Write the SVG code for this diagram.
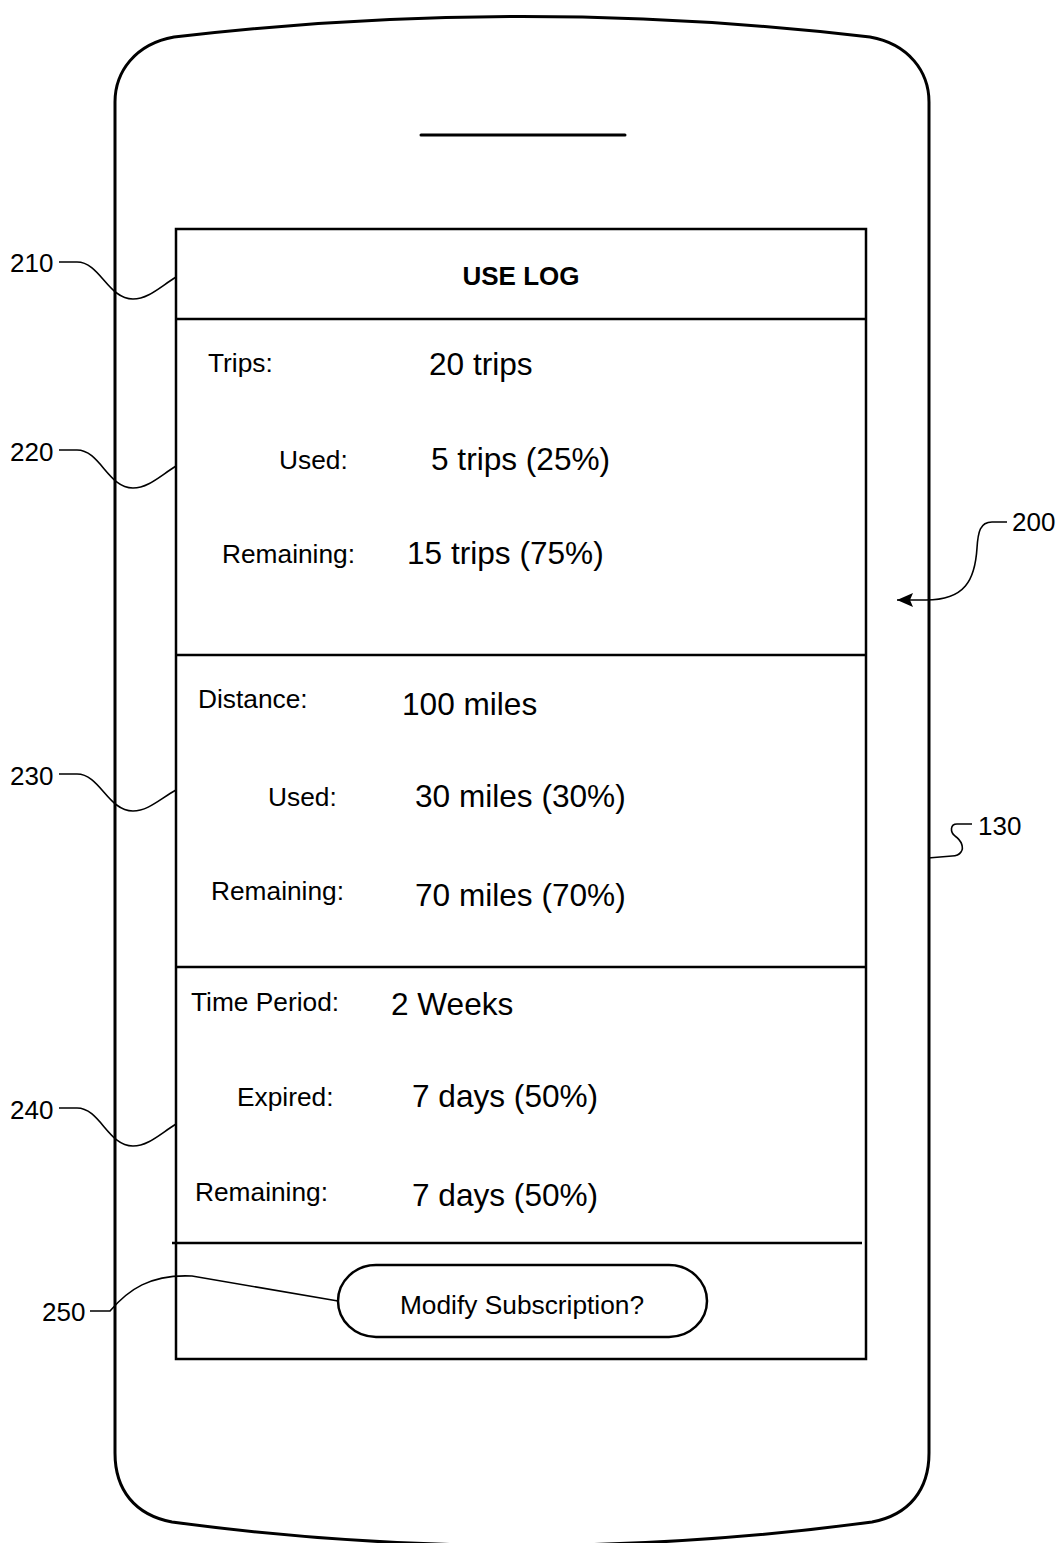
<svg xmlns="http://www.w3.org/2000/svg" width="1061" height="1543" viewBox="0 0 1061 1543">
<style>
.ol{fill:none;stroke:#000;stroke-width:3;stroke-linecap:round;stroke-linejoin:round}
.bx{fill:none;stroke:#000;stroke-width:2.5}
.ld{fill:none;stroke:#000;stroke-width:1.6}
text{font-family:"Liberation Sans",Arial,sans-serif;fill:#000}
.lb{font-size:26.3px}
.vl{font-size:31.6px}
.rf{font-size:26px}
.tt{font-size:26px;font-weight:bold}
.bt{font-size:26.3px}
</style>
<defs>
<marker id="ah" markerUnits="userSpaceOnUse" viewBox="0 0 16 14" refX="16" refY="7" markerWidth="16" markerHeight="14" orient="auto">
<path d="M0,0 L16,7 L0,14 L3,7 z" fill="#000"/>
</marker>
</defs>
<rect width="1061" height="1543" fill="#fff"/>
<g id="phone-130">
<path class="ol" d="M115,102 C115,72 135,44 174,37 Q522,-4 870,37 C909,44 929,72 929,102 L929,1453 C929,1490 909,1515 872,1522 Q522,1569 172,1522 C135,1515 115,1490 115,1453 Z"/>
<line class="ol" x1="421" y1="135" x2="625" y2="135"/>
</g>
<g id="screen-200">
<rect class="bx" x="176" y="229" width="690" height="1130"/>
</g>
<g id="header-210">
<line class="bx" x1="176" y1="319" x2="866" y2="319"/>
<text class="tt" x="521" y="285" text-anchor="middle">USE LOG</text>
</g>
<g id="trips-220">
<text class="lb" x="208" y="372">Trips:</text>
<text class="vl" x="429" y="375">20 trips</text>
<text class="lb" x="279" y="469">Used:</text>
<text class="vl" x="431" y="470">5 trips (25%)</text>
<text class="lb" x="222" y="563">Remaining:</text>
<text class="vl" x="407" y="564">15 trips (75%)</text>
<line class="bx" x1="176" y1="655" x2="866" y2="655"/>
</g>
<g id="distance-230">
<text class="lb" x="198" y="708">Distance:</text>
<text class="vl" x="402" y="715">100 miles</text>
<text class="lb" x="268" y="806">Used:</text>
<text class="vl" x="415" y="807">30 miles (30%)</text>
<text class="lb" x="211" y="900">Remaining:</text>
<text class="vl" x="415" y="906">70 miles (70%)</text>
<line class="bx" x1="176" y1="967" x2="866" y2="967"/>
</g>
<g id="time-240">
<text class="lb" x="191" y="1011">Time Period:</text>
<text class="vl" x="391" y="1015">2 Weeks</text>
<text class="lb" x="237" y="1106">Expired:</text>
<text class="vl" x="412" y="1107">7 days (50%)</text>
<text class="lb" x="195" y="1201">Remaining:</text>
<text class="vl" x="412" y="1206">7 days (50%)</text>
<line class="bx" x1="172" y1="1243" x2="862" y2="1243"/>
</g>
<g id="button-250">
<rect class="bx" x="338" y="1265" width="369" height="72" rx="38" ry="36"/>
<text class="bt" x="522" y="1314" text-anchor="middle">Modify Subscription?</text>
</g>
<g id="connectors">
<path class="ld" d="M59,262 H77 C100,262 108,299 133,299 C148,299 160,287 176,277"/>
<path class="ld" d="M59,450 H77 C100,450 108,488 133,488 C148,488 160,476 176,466"/>
<path class="ld" d="M59,774 H77 C100,774 108,811 133,811 C148,811 160,799 176,790"/>
<path class="ld" d="M59,1108 H77 C100,1108 108,1146 133,1146 C148,1146 160,1134 176,1124"/>
<path class="ld" d="M90,1311 H110 C128,1290 150,1274 192,1276 L338,1301"/>
<path class="ld" d="M1007,522 H992 C980,522 978,532 977,548 C975,580 965,600 926,600 H897" marker-end="url(#ah)"/>
<path class="ld" d="M972,824 H957 C950,824 950,832 955,836 C962,841 964,848 961,852 C959,855 956,856 952,856 L928,858"/>
</g>
<g id="labels">
<text class="rf" x="10" y="272">210</text>
<text class="rf" x="10" y="461">220</text>
<text class="rf" x="10" y="785">230</text>
<text class="rf" x="10" y="1119">240</text>
<text class="rf" x="42" y="1321">250</text>
<text class="rf" x="1012" y="531">200</text>
<text class="rf" x="978" y="835">130</text>
</g>
</svg>
